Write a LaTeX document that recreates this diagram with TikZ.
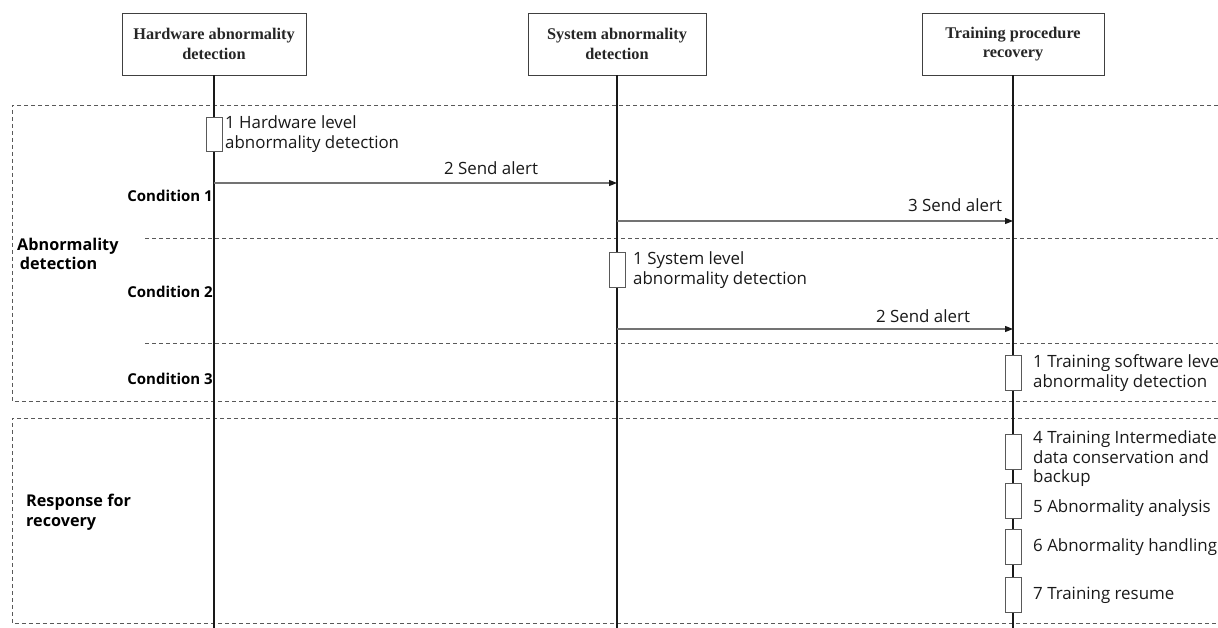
\documentclass[tikz,border=0pt]{standalone}
\usepackage{fontspec}
\setmainfont{Open Sans}
\newfontfamily\headfont{Liberation Serif}
\usetikzlibrary{arrows.meta}

\tikzset{
  headbox/.style={draw=black!75, line width=0.8pt, minimum width=184, minimum height=62,
    align=center, text=black!85, font=\headfont\bfseries\fontsize{16.3}{19.5}\selectfont},
  lifeline/.style={draw=black!90, line width=2.7pt},
  actbox/.style={draw=black!65, fill=white, line width=0.7pt, minimum width=16,
    minimum height=35, inner sep=0pt},
  msg/.style={draw=black!55, line width=1.2pt, -{Triangle[length=8pt,width=6pt,color=black!90]}},
  sepline/.style={draw=black!65, line width=0.6pt, dash pattern=on 4pt off 3pt},
  steptext/.style={anchor=west, align=left, inner sep=0pt, text=black!90,
    font=\fontsize{16.9}{19.5}\selectfont},
  msglabel/.style={inner sep=0pt, text=black!90, font=\fontsize{16.9}{19.5}\selectfont},
  condlabel/.style={inner sep=0pt, text=black, font=\bfseries\fontsize{15}{19}\selectfont},
  grouplabel/.style={anchor=west, align=left, inner sep=0pt, text=black,
    font=\bfseries\fontsize{16.2}{19.5}\selectfont},
}

\begin{document}
\begin{tikzpicture}[x=1pt, y=-1pt]
\useasboundingbox (0,0) rectangle (1218,628);

% section frames
\draw[sepline] (1218,105) -- (12,105) -- (12,401) -- (1218,401);
\draw[sepline] (145,238) -- (1218,238);
\draw[sepline] (145,343) -- (1218,343);
\draw[sepline] (1218,418) -- (12,418) -- (12,623) -- (1218,623);

% participants
\node[headbox] (hw) at (214,44) {Hardware abnormality\\detection};
\node[headbox, minimum width=178] (sys) at (617,44) {System abnormality\\detection};
\node[headbox, minimum width=182] (trn) at (1013,44) {Training procedure\\recovery};

% lifelines
\coordinate (hwend) at (hw.south |- 0,628);
\coordinate (sysend) at (sys.south |- 0,628);
\coordinate (trnend) at (trn.south |- 0,628);
\draw[lifeline] (hw.south) -- (hwend);
\draw[lifeline] (sys.south) -- (sysend);
\draw[lifeline] (trn.south) -- (trnend);

% group and condition labels
\node[grouplabel] (gdet) at (17,254) {Abnormality\\\,detection};
\node[grouplabel] (grec) at (26,512) {Response for\\recovery};
\node[condlabel, anchor=east] (c1) at (213,196) {Condition 1};
\node[condlabel, anchor=east] (c2) at (213,292) {Condition 2};
\node[condlabel, anchor=east] (c3) at (213,379) {Condition 3};

% condition 1
\node[actbox, minimum height=34] (hwa) at (hw.south |- 0,134) {};
\node[steptext] (hwt) at (225,134) {1 Hardware level\\abnormality detection};
\coordinate (m1s) at (hw.south |- 0,183);
\coordinate (m1e) at (sys.south |- 0,183);
\draw[msg] (m1s) -- (m1e);
\node[msglabel] (m1l) at (491,168) {2 Send alert};
\coordinate (m2s) at (sys.south |- 0,221);
\coordinate (m2e) at (trn.south |- 0,221);
\draw[msg] (m2s) -- (m2e);
\node[msglabel] (m2l) at (955,205) {3 Send alert};

% condition 2
\node[actbox] (sysa) at (sys.south |- 0,269.5) {};
\node[steptext] (syst) at (633,270) {1 System level\\abnormality detection};
\coordinate (m3s) at (sys.south |- 0,329);
\coordinate (m3e) at (trn.south |- 0,329);
\draw[msg] (m3s) -- (m3e);
\node[msglabel] (m3l) at (923,316) {2 Send alert};

% condition 3
\node[actbox] (trna1) at (trn.south |- 0,373) {};
\node[steptext] (trnt1) at (1033,373) {1 Training software leve\\abnormality detection};

% recovery steps
\node[actbox] (trna4) at (trn.south |- 0,451.5) {};
\node[steptext] (trnt4) at (1033,459) {4 Training Intermediate\\data conservation and\\backup};
\node[actbox] (trna5) at (trn.south |- 0,500.5) {};
\node[steptext] (trnt5) at (1033,508) {5 Abnormality analysis};
\node[actbox] (trna6) at (trn.south |- 0,546.5) {};
\node[steptext] (trnt6) at (1033,547) {6 Abnormality handling};
\node[actbox] (trna7) at (trn.south |- 0,594.5) {};
\node[steptext] (trnt7) at (1033,595) {7 Training resume};
\end{tikzpicture}
\end{document}
